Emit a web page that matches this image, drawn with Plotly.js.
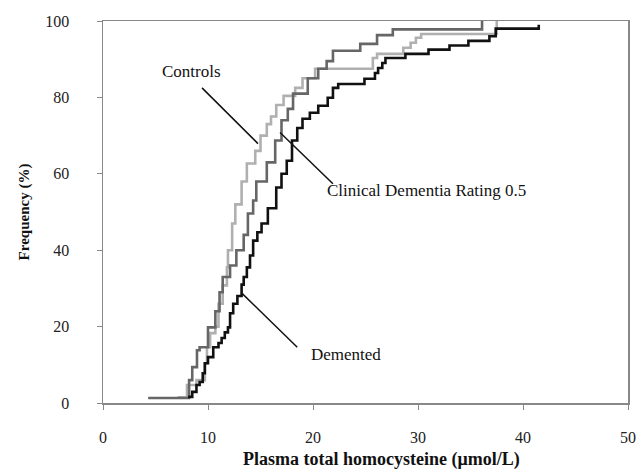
<!DOCTYPE html>
<html>
<head>
<meta charset="utf-8">
<script src="https://cdn.plot.ly/plotly-3.0.1.min.js"></script>
<style>html,body{margin:0;padding:0;background:#fff;}#chart{width:642px;height:473px;}</style>
</head>
<body>
<div id="chart"></div>
<script>
// Step points: at x the cumulative frequency becomes y
const controlsX = [7.1, 8.0, 8.9, 9.7, 9.9, 10.2, 10.7, 11.0, 11.4, 11.8, 11.9, 12.3, 12.6, 13.2, 13.7, 14.5, 15.0, 15.6, 16.0, 16.5, 17.2, 18.3, 19.0, 20.2, 25.7, 26.1, 28.6, 29.3, 29.8, 30.3, 37.5];
const controlsY = [1.5, 4.7, 6.0, 10.4, 14.6, 18.3, 20.0, 26.0, 30.8, 35.5, 40.0, 47.0, 52.0, 58.0, 62.7, 66.0, 70.0, 73.0, 75.0, 78.0, 80.4, 82.5, 85.0, 87.5, 90.3, 91.4, 93.0, 94.3, 95.6, 96.6, 100];

const cdrX = [4.3, 8.2, 8.5, 8.95, 9.2, 10.0, 10.7, 11.1, 11.4, 12.1, 12.7, 13.4, 13.8, 14.3, 14.6, 15.6, 16.4, 17.0, 17.6, 18.1, 19.5, 20.5, 21.3, 21.9, 24.5, 26.1, 27.6, 36.1];
const cdrY = [1.3, 6.0, 9.4, 13.8, 14.6, 19.8, 24.0, 29.0, 33.0, 36.0, 40.0, 44.0, 49.6, 53.0, 58.0, 63.0, 68.7, 74.0, 77.0, 81.0, 85.0, 87.5, 89.5, 92.2, 94.0, 96.3, 97.8, 100];

const dementedX = [8.1, 8.5, 8.9, 9.2, 9.5, 9.7, 10.0, 10.5, 11.0, 11.3, 11.6, 11.9, 12.1, 12.4, 12.8, 13.2, 13.4, 13.7, 14.0, 14.3, 14.7, 15.1, 15.7, 16.5, 17.0, 17.5, 18.0, 18.5, 19.0, 19.7, 20.5, 21.4, 21.9, 22.4, 24.9, 25.9, 26.2, 26.6, 26.9, 28.8, 31.0, 33.0, 34.8, 36.8, 37.4, 41.5];
const dementedY = [1.6, 2.9, 4.7, 5.5, 7.8, 10.4, 12.0, 14.6, 15.7, 17.0, 18.5, 19.8, 23.5, 26.0, 28.0, 31.0, 33.0, 35.5, 38.6, 42.5, 44.7, 47.0, 51.0, 56.4, 60.0, 63.4, 68.7, 72.0, 74.4, 76.0, 77.8, 79.9, 82.5, 83.5, 84.9, 86.4, 87.7, 89.0, 90.3, 91.4, 92.5, 93.6, 94.8, 96.0, 98.0, 99.0];

const xTicks = [0, 10, 20, 30, 40, 50];
const yTicks = [0, 20, 40, 60, 80, 100];

const xTitle = "Plasma total homocysteine (μmol/L)";
const yTitle = "Frequency (%)";

const labels = ["Controls", "Clinical Dementia Rating 0.5", "Demented"];
// label anchor [x, y] and pointer [x0, y0, x1, y1] in data units
const labelPos = [[8.4, 86.7], [30.8, 55.6], [23.1, 12.8]];
const pointers = [[9.43, 82.5, 14.76, 67.9], [16.86, 70.8, 21.9, 57.4], [13.24, 28.7, 18.5, 14.6]];

const serif = "Liberation Serif, Times New Roman, serif";

const traces = [
  {x: controlsX, y: controlsY, mode: "lines", line: {shape: "hv", color: "#b0b0b0", width: 2.6}, name: "Controls"},
  {x: cdrX, y: cdrY, mode: "lines", line: {shape: "hv", color: "#666666", width: 2.6}, name: "CDR 0.5"},
  {x: dementedX, y: dementedY, mode: "lines", line: {shape: "hv", color: "#111111", width: 2.6}, name: "Demented"}
];

const annots = labels.map((t, i) => ({
  x: labelPos[i][0], y: labelPos[i][1], xref: "x", yref: "y", text: t,
  showarrow: false, font: {family: serif, size: 17, color: "#111"}
}));
annots.push({
  x: 0.531, y: -0.148, xref: "paper", yref: "paper", xanchor: "center", yanchor: "middle",
  text: "<b>" + xTitle + "</b>", showarrow: false,
  font: {family: serif, size: 18, color: "#111"}
});

const layout = {
  width: 642, height: 473,
  margin: {l: 103, r: 14, t: 21, b: 70},
  paper_bgcolor: "#fff", plot_bgcolor: "#fff",
  showlegend: false,
  font: {family: serif, size: 16, color: "#222"},
  xaxis: {
    range: [0, 50], tickvals: xTicks, ticktext: xTicks.map(String),
    showgrid: false, zeroline: false, showline: true, linecolor: "#888", linewidth: 1.5,
    mirror: true, ticks: "outside", ticklen: 5, tickcolor: "#888",
    ticklabelstandoff: 14,
    tickfont: {family: serif, size: 16, color: "#222"}
  },
  yaxis: {
    range: [0, 100], tickvals: yTicks, ticktext: yTicks.map(String),
    showgrid: false, zeroline: false, showline: true, linecolor: "#888", linewidth: 1.5,
    mirror: true, ticks: "outside", ticklen: 5, tickcolor: "#888",
    ticklabelstandoff: 24,
    tickfont: {family: serif, size: 16, color: "#222"},
    title: {text: yTitle, font: {family: serif, size: 15, color: "#111", weight: "bold"}, standoff: 12}
  },
  annotations: annots,
  shapes: pointers.map(p => ({
    type: "line", xref: "x", yref: "y", x0: p[0], y0: p[1], x1: p[2], y1: p[3],
    line: {color: "#111", width: 1.5}
  }))
};

Plotly.newPlot("chart", traces, layout, {displayModeBar: false, staticPlot: true});
</script>
</body>
</html>
